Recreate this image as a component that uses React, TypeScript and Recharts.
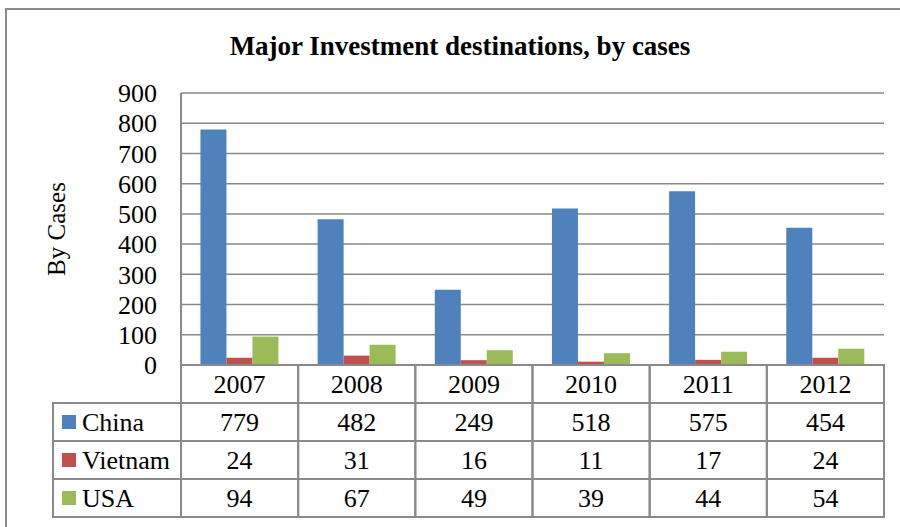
import { Bar, BarChart, CartesianGrid, Label, XAxis, YAxis } from "recharts";

const years = ["2007", "2008", "2009", "2010", "2011", "2012"];
const china = [779, 482, 249, 518, 575, 454];
const vietnam = [24, 31, 16, 11, 17, 24];
const usa = [94, 67, 49, 39, 44, 54];
const yTicks = [0, 100, 200, 300, 400, 500, 600, 700, 800, 900];

const series = [
  { key: "China", values: china, color: "#4F81BD" },
  { key: "Vietnam", values: vietnam, color: "#C0504D" },
  { key: "USA", values: usa, color: "#9BBB59" },
];

const data = years.map((year, i) => ({
  year,
  China: china[i],
  Vietnam: vietnam[i],
  USA: usa[i],
}));

const W = 900;
const H = 527;
const MARGIN = { top: 93, right: 16, bottom: 10, left: 20 };
const YAXIS_W = 161;
const XAXIS_H = 152;
const BAND = (W - MARGIN.left - YAXIS_W - MARGIN.right) / years.length;
const ROW = 38;
const LEGEND_W = 128;
const FONT = '"Liberation Serif", "Times New Roman", serif';
const FS = 26;
const GRAY = "#8a8a8a";

// one column of the data table, hung under each category tick
function TableColumn(props: any) {
  const { x, y, index, payload } = props;
  const left = x - BAND / 2;
  const cells = [payload.value, ...series.map((s) => String(s.values[index]))];
  return (
    <g fontFamily={FONT} fontSize={FS} fill="#000">
      {cells.map((c, r) => (
        <g key={r}>
          <rect
            x={left}
            y={y + r * ROW}
            width={BAND}
            height={ROW}
            fill="none"
            stroke={GRAY}
            strokeWidth={2}
          />
          <text x={x} y={y + r * ROW + 28} textAnchor="middle" fill="#000" fontSize={FS}>
            {c}
          </text>
        </g>
      ))}
      {index === 0 &&
        series.map((s, r) => (
          <g key={s.key}>
            <rect
              x={left - LEGEND_W}
              y={y + (r + 1) * ROW}
              width={LEGEND_W}
              height={ROW}
              fill="none"
              stroke={GRAY}
              strokeWidth={2}
            />
            <rect
              x={left - LEGEND_W + 9}
              y={y + (r + 1) * ROW + 12}
              width={14}
              height={14}
              fill={s.color}
            />
            <text
              x={left - LEGEND_W + 29}
              y={y + (r + 1) * ROW + 28}
              fill="#000"
              fontSize={FS}
            >
              {s.key}
            </text>
          </g>
        ))}
    </g>
  );
}

export default function App() {
  return (
    <div
      style={{
        position: "absolute",
        left: 0,
        top: 0,
        width: W,
        height: H,
        overflow: "hidden",
        background: "#fff",
      }}
    >
      <BarChart
        width={W}
        height={H}
        data={data}
        margin={MARGIN}
        barCategoryGap="16.6%"
        barGap={0}
      >
        <CartesianGrid vertical={false} stroke={GRAY} strokeWidth={1.5} />
        <XAxis
          dataKey="year"
          height={XAXIS_H}
          stroke={GRAY}
          strokeWidth={2}
          tickLine={false}
          tickSize={0}
          tickMargin={0}
          interval={0}
          tick={<TableColumn />}
        />
        <YAxis
          width={YAXIS_W}
          domain={[0, 900]}
          ticks={yTicks}
          interval={0}
          stroke={GRAY}
          strokeWidth={2}
          tickLine={false}
          tickSize={0}
          tickMargin={24}
          tick={{ fill: "#000", fontSize: FS, fontFamily: FONT }}
        >
          <Label
            value="By Cases"
            angle={-90}
            position="insideLeft"
            offset={36}
            style={{ textAnchor: "middle", fontSize: 25, fontFamily: FONT, fill: "#000" }}
          />
        </YAxis>
        {series.map((s) => (
          <Bar key={s.key} dataKey={s.key} fill={s.color} isAnimationActive={false} />
        ))}
      </BarChart>
      <svg
        width={W}
        height={H}
        style={{ position: "absolute", left: 0, top: 0, pointerEvents: "none" }}
      >
        <rect x={6} y={9} width={W} height={H} fill="none" stroke={GRAY} strokeWidth={2} />
        <text
          x={460}
          y={55}
          textAnchor="middle"
          fontFamily={FONT}
          fontWeight="bold"
          fontSize={27}
          fill="#000"
        >
          Major Investment destinations, by cases
        </text>
      </svg>
    </div>
  );
}
